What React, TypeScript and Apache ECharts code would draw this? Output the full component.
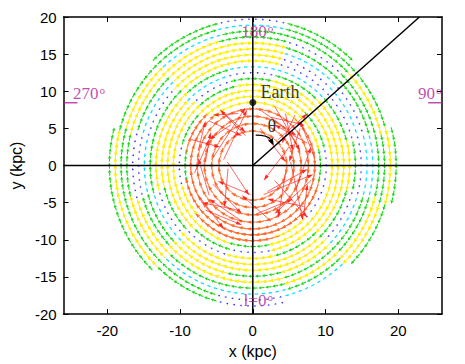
import React, { useEffect, useRef } from "react";
import * as echarts from "echarts";

// ---- axis ticks ----
const xTickValues = [-20, -10, 0, 10, 20];
const xRange = [-26, 26];
const yRange = [-20, 20];

// ---- velocity field rings (radius, kpc) and colour class per 30° sector
// sectors: 0°,30°,...,330° measured counter-clockwise from +x
const ringRadii = [4.6, 5.6, 6.6, 7.6, 8.5, 9.3, 10.1, 10.9, 11.7, 12.5, 13.3, 14.1, 14.9, 15.7, 16.5, 17.3, 18.1, 18.9, 19.7];
const ringSectors = [
  "OOOOOOOOOOOO",
  "OOOOOOOOOOOO",
  "OOOOOOOOOOOO",
  "OOOOOOOOOOOO",
  "OOYYYOOOOOOO",
  "GYYYYOGOOOOO",
  "BGYYYGBYOOYB",
  "YYYYGYYYYGYY",
  "YYYGBYYYGBYY",
  "YYGBCYYGBYGY",
  "YGCCGYYBYYYG",
  "GBBYYGGCYYYB",
  "BCBYYBCGYGYC",
  "CBCYYCBGYYGG",
  "CGGYYGBYGGYG",
  "GGBGYYGYCCGY",
  "GYGGCYGGGBCY",
  "YGGCGGYYGB.G",
  "G.GBG.GG....",
];
const ringSpacing = [1.3, 1.3, 1.3, 1.3, 1.2, 0.95, 0.95, 0.95, 0.95, 0.95, 0.95, 0.95, 0.95, 0.95, 0.95, 0.95, 0.95, 0.95, 0.95];

// arrow length (kpc) per speed class
const classNames = ["B", "C", "G", "Y", "O"];
const classLength: Record<string, number> = { B: 0.3, C: 0.55, G: 0.85, Y: 1.25, O: 2.4 };
const classColor: Record<string, string> = {
  B: "#3030ff",
  C: "#00dcff",
  G: "#14d814",
  Y: "#ffee00",
  O: "#ff6a2a",
  R: "#ff2424",
};

// long red arrows in the inner region: [x0, y0, dx, dy]
const redArrows = [
  [-5.5, 1.0, 4.5, 6.8], [-4.0, 0.8, 3.2, 6.7], [-6.5, 0.5, 0.7, 4.0], [-7.5, 2.0, 1.0, 4.0],
  [-3.0, 5.5, -3.0, -2.0], [-2.0, 7.0, -3.5, -0.2], [-6.0, 6.0, 4.5, -2.0], [-1.0, 4.0, -3.5, 3.5],
  [1.0, 7.5, 5.0, -3.5], [4.5, 7.0, 1.0, -5.0], [2.5, 6.5, 4.5, -1.0], [6.5, 5.0, -1.5, -4.5],
  [3.5, 3.5, 4.0, 3.5], [5.8, 6.8, -1.8, -3.8], [7.5, 3.0, -4.5, 2.5], [1.0, 5.0, 3.5, -4.5],
  [1.5, -3.9, 6.8, 2.7], [2.0, -3.5, 5.5, 3.0], [5.2, 0.5, 1.7, -7.9], [4.5, -1.0, -1.0, -6.0],
  [8.0, -2.0, -5.0, -4.5], [7.0, -5.5, -5.0, 1.0], [3.0, -2.0, 4.5, -5.0], [-0.3, -3.9, -4.5, 1.8],
  [-3.4, -0.4, -0.5, -5.2], [-6.5, -6.0, 5.0, -2.0], [-2.0, -6.0, -5.0, 1.0], [-5.5, -2.5, 4.0, -4.0],
  [-7.5, -4.0, 3.5, -4.5], [-3.5, 0.5, 3.0, -4.5],
  [-8.0, -1.0, 2.0, 4.5], [-6.0, -4.0, -1.5, 5.0], [6.0, -3.0, 2.0, 5.5], [8.5, 1.0, -2.0, 5.0],
  [0.5, -6.5, 5.0, 2.0], [-1.5, -7.5, -4.5, 3.0], [3.0, 8.0, 3.5, -6.0], [-4.5, 7.5, 3.5, -3.0],
  [7.0, -6.5, 0.5, 4.0], [-8.5, 3.5, 4.0, -1.0], [2.5, -7.5, -4.0, 3.5], [5.0, 2.5, -3.5, -4.5],
];

// reference lines [x1, y1, x2, y2]
const blackSegments = [
  [-26, 0, 26, 0],
  [0, -20, 0, 20],
  [0, 0, 22.9, 20],
];
const magentaSegments = [
  [-26, 8.45, -24.1, 8.45],
  [24.1, 8.45, 26, 8.45],
];
// theta arc arrow: start, control, end
const thetaArc = [[0.4, 4.1, 2.1, 4.1, 2.9, 2.7]];
const earthPoint = [[0, 8.5]];

const lonLabels = [
  { value: [0.6, 18.0], text: "180" },
  { value: [-22.5, 9.7], text: "270" },
  { value: [24.3, 9.7], text: "90" },
  { value: [0.75, -18.15], text: "l=0" },
];
const textLabels = [
  { value: [3.75, 9.9], text: "Earth" },
  { value: [2.6, 5.35], text: "θ" },
];

function buildRingArrows() {
  const out: Record<string, number[][]> = { B: [], C: [], G: [], Y: [], O: [] };
  ringRadii.forEach((r, k) => {
    const s = ringSectors[k];
    const n = Math.round((2 * Math.PI * r) / ringSpacing[k]);
    for (let i = 0; i < n; i++) {
      const phi = (2 * Math.PI * i) / n;
      const sec = Math.round(phi / (Math.PI / 6)) % 12;
      const c = s[sec];
      if (c === "." || !out[c]) continue;
      const L = classLength[c];
      const tx = Math.sin(phi);
      const ty = -Math.cos(phi);
      const cx = r * Math.cos(phi);
      const cy = r * Math.sin(phi);
      out[c].push([cx - (tx * L) / 2, cy - (ty * L) / 2, tx * L, ty * L]);
    }
  });
  return out;
}

function arrowSeries(name: string, data: number[][], color: string, lw: number, headMax: number, headRatio: number) {
  return {
    type: "custom",
    name,
    coordinateSystem: "cartesian2d",
    silent: true,
    data,
    z: 2,
    renderItem: (params: any, api: any) => {
      const x = api.value(0), y = api.value(1), dx = api.value(2), dy = api.value(3);
      const p0 = api.coord([x, y]);
      const p1 = api.coord([x + dx, y + dy]);
      const vx = p1[0] - p0[0], vy = p1[1] - p0[1];
      const len = Math.hypot(vx, vy) || 1;
      const ux = vx / len, uy = vy / len;
      const hl = Math.min(headMax, len * 0.5);
      const hw = hl * headRatio;
      const bx = p1[0] - ux * hl, by = p1[1] - uy * hl;
      return {
        type: "group",
        children: [
          { type: "line", shape: { x1: p0[0], y1: p0[1], x2: bx, y2: by }, style: { stroke: color, lineWidth: lw } },
          {
            type: "polygon",
            shape: { points: [[p1[0], p1[1]], [bx - uy * hw, by + ux * hw], [bx + uy * hw, by - ux * hw]] },
            style: { fill: color },
          },
        ],
      };
    },
  };
}

function segmentSeries(data: number[][], color: string, lw: number) {
  return {
    type: "custom",
    coordinateSystem: "cartesian2d",
    silent: true,
    data,
    z: 5,
    renderItem: (params: any, api: any) => {
      const p0 = api.coord([api.value(0), api.value(1)]);
      const p1 = api.coord([api.value(2), api.value(3)]);
      return { type: "line", shape: { x1: p0[0], y1: p0[1], x2: p1[0], y2: p1[1] }, style: { stroke: color, lineWidth: lw } };
    },
  };
}

export default function App() {
  const ref = useRef<HTMLDivElement>(null);
  useEffect(() => {
    document.body.style.margin = "0";
    const chart = echarts.init(ref.current!, null, { renderer: "svg" });
    const rings = buildRingArrows();
    const style: Record<string, [number, number, number]> = {
      B: [1.5, 1.3, 0.5],
      C: [1.2, 2.4, 0.5],
      G: [1.1, 3.4, 0.5],
      Y: [1.0, 4.2, 0.45],
      O: [0.8, 5, 0.32],
    };
    const arrowSeriesList = classNames.map((c) =>
      arrowSeries(c, rings[c], classColor[c], style[c][0], style[c][1], style[c][2])
    );
    const degRich = {
      n: { fontFamily: "Liberation Serif", fontSize: 17, color: "#b0209c", lineHeight: 18 },
      s: { fontFamily: "Liberation Serif", fontSize: 11, color: "#b0209c", verticalAlign: "top", lineHeight: 18, padding: [0, 0, 0, 1] },
    };
    const axisCommon = {
      axisLine: { show: true, onZero: false, lineStyle: { color: "#000", width: 1.5 } },
      splitLine: { show: false },
    };
    chart.setOption({
      animation: false,
      grid: { left: 58, right: 23, top: 17, bottom: 44 },
      xAxis: [
        {
          type: "value", min: xRange[0], max: xRange[1], position: "bottom",
          ...axisCommon,
          axisTick: { inside: true, length: 5, customValues: xTickValues, lineStyle: { color: "#000" } },
          axisLabel: { customValues: xTickValues, color: "#000", fontFamily: "Liberation Sans", fontSize: 15, margin: 9 },
          name: "x (kpc)", nameLocation: "middle", nameGap: 28,
          nameTextStyle: { color: "#000", fontFamily: "Liberation Sans", fontSize: 16 },
        },
        {
          type: "value", min: xRange[0], max: xRange[1], position: "top",
          ...axisCommon,
          axisTick: { inside: true, length: 5, customValues: xTickValues, lineStyle: { color: "#000" } },
          axisLabel: { show: false },
        },
      ],
      yAxis: [
        {
          type: "value", min: yRange[0], max: yRange[1], interval: 5, position: "left",
          ...axisCommon,
          axisTick: { inside: true, length: 5, lineStyle: { color: "#000" } },
          axisLabel: { color: "#000", fontFamily: "Liberation Sans", fontSize: 15, margin: 7 },
          name: "y (kpc)", nameLocation: "middle", nameGap: 38,
          nameTextStyle: { color: "#000", fontFamily: "Liberation Sans", fontSize: 16 },
        },
        {
          type: "value", min: yRange[0], max: yRange[1], interval: 5, position: "right",
          ...axisCommon,
          axisTick: { inside: true, length: 5, lineStyle: { color: "#000" } },
          axisLabel: { show: false },
        },
      ],
      series: [
        ...arrowSeriesList,
        arrowSeries("R", redArrows, classColor.R, 0.7, 6, 0.3),
        segmentSeries(blackSegments, "#000", 1.5),
        segmentSeries(magentaSegments, "#b0209c", 1.2),
        {
          type: "custom",
          coordinateSystem: "cartesian2d",
          silent: true,
          data: thetaArc,
          z: 6,
          renderItem: (params: any, api: any) => {
            const a = api.coord([api.value(0), api.value(1)]);
            const c = api.coord([api.value(2), api.value(3)]);
            const b = api.coord([api.value(4), api.value(5)]);
            const vx = b[0] - c[0], vy = b[1] - c[1];
            const l = Math.hypot(vx, vy) || 1;
            const ux = vx / l, uy = vy / l;
            const hl = 7, hw = 2.6;
            const bx = b[0] - ux * hl, by = b[1] - uy * hl;
            return {
              type: "group",
              children: [
                {
                  type: "bezierCurve",
                  shape: { x1: a[0], y1: a[1], cpx1: c[0], cpy1: c[1], x2: bx, y2: by },
                  style: { stroke: "#000", lineWidth: 1.2, fill: "none" },
                },
                {
                  type: "polygon",
                  shape: { points: [[b[0], b[1]], [bx - uy * hw, by + ux * hw], [bx + uy * hw, by - ux * hw]] },
                  style: { fill: "#000" },
                },
              ],
            };
          },
        },
        {
          type: "scatter",
          data: earthPoint,
          symbol: "circle",
          symbolSize: 7,
          itemStyle: { color: "#000" },
          silent: true,
          z: 7,
        },
        {
          type: "scatter",
          data: lonLabels.map((d) => ({ value: d.value, text: d.text })),
          symbolSize: 0,
          silent: true,
          z: 8,
          label: {
            show: true,
            position: "inside",
            align: "center",
            verticalAlign: "middle",
            formatter: (p: any) => `{n|${p.data.text}}{s|o}`,
            rich: degRich,
          },
        },
        {
          type: "scatter",
          data: textLabels.map((d) => ({ value: d.value, text: d.text })),
          symbolSize: 0,
          silent: true,
          z: 8,
          label: {
            show: true,
            position: "inside",
            align: "center",
            verticalAlign: "middle",
            formatter: (p: any) => p.data.text,
            color: "#000",
            fontFamily: "Liberation Serif",
            fontSize: 18,
          },
        },
      ],
    });
    return () => chart.dispose();
  }, []);
  return <div ref={ref} style={{ width: 465, height: 364 }} />;
}
